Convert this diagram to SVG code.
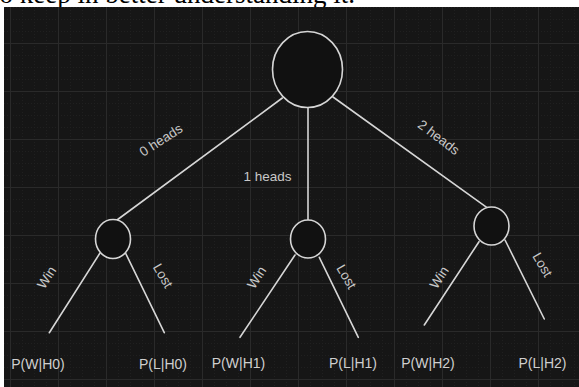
<svg xmlns="http://www.w3.org/2000/svg" width="579" height="387" viewBox="0 0 579 387">
  <defs>
    <style>
      .caption { font-family: "Liberation Serif", "Times New Roman", serif; font-size: 27px; fill: #000; }
      .node { fill: #111111; stroke: #d6d6d6; stroke-width: 1.6; }
      .edge { stroke: #d6d6d6; stroke-width: 1.6; fill: none; stroke-linecap: round; }
      .lbl { font-family: "Liberation Sans", Arial, sans-serif; font-size: 13.5px; fill: #c8c8c8; text-anchor: middle; }
      .leaf { font-family: "Liberation Sans", Arial, sans-serif; font-size: 14px; fill: #cfcfcf; text-anchor: middle; }
      .minor { stroke: #202020; stroke-width: 1; stroke-dasharray: 1 2; }
      .major { stroke: #2a2a2a; stroke-width: 1; }
    </style>
    <pattern id="grid" patternUnits="userSpaceOnUse" x="10" y="43" width="48" height="48">
      <line class="minor" x1="12.5" y1="0" x2="12.5" y2="48"/>
      <line class="minor" x1="24.5" y1="0" x2="24.5" y2="48"/>
      <line class="minor" x1="36.5" y1="0" x2="36.5" y2="48"/>
      <line class="minor" x1="0" y1="12.5" x2="48" y2="12.5"/>
      <line class="minor" x1="0" y1="24.5" x2="48" y2="24.5"/>
      <line class="minor" x1="0" y1="36.5" x2="48" y2="36.5"/>
      <line class="major" x1="0.5" y1="0" x2="0.5" y2="48"/>
      <line class="major" x1="0" y1="0.5" x2="48" y2="0.5"/>
    </pattern>
  </defs>

  <!-- page strip above the canvas -->
  <rect x="0" y="0" width="579" height="387" fill="#ffffff"/>
  <text class="caption" x="-8" y="3">to keep in better understanding it.</text>

  <!-- canvas with grid -->
  <rect x="4" y="7" width="575" height="380" fill="#161616"/>
  <rect x="4" y="7" width="575" height="380" fill="url(#grid)"/>

  <g id="connectors">
    <line class="edge" x1="282.3" y1="98" x2="117" y2="220"/>
    <line class="edge" x1="308" y1="107.5" x2="308" y2="220"/>
    <line class="edge" x1="333" y1="97" x2="486.7" y2="207.3"/>

    <line class="edge" x1="100" y1="253" x2="49.3" y2="332.7"/>
    <line class="edge" x1="125" y1="252" x2="164.3" y2="332.7"/>

    <line class="edge" x1="295" y1="255" x2="240" y2="337.3"/>
    <line class="edge" x1="319.3" y1="257.3" x2="358.3" y2="337.3"/>

    <line class="edge" x1="479" y1="241.7" x2="424.3" y2="325"/>
    <line class="edge" x1="505" y1="240" x2="544.3" y2="319"/>

    <text class="lbl" transform="translate(163.5,144) rotate(-33)">0 heads</text>
    <text class="lbl" x="267.5" y="181">1 heads</text>
    <text class="lbl" transform="translate(436,141) rotate(37)">2 heads</text>

    <text class="lbl" font-size="12.5" transform="translate(50.5,280) rotate(-57)">Win</text>
    <text class="lbl" font-size="12.5" transform="translate(159,278) rotate(60)">Lost</text>
    <text class="lbl" font-size="12.5" transform="translate(260.5,280) rotate(-57)">Win</text>
    <text class="lbl" font-size="12.5" transform="translate(342.5,279) rotate(60)">Lost</text>
    <text class="lbl" font-size="12.5" transform="translate(443,280) rotate(-57)">Win</text>
    <text class="lbl" font-size="12.5" transform="translate(538.5,267) rotate(60)">Lost</text>
  </g>

  <g id="root">
    <ellipse class="node" cx="307.5" cy="69.5" rx="35" ry="38"/>
  </g>
  <g id="h0">
    <ellipse class="node" cx="113" cy="239" rx="17.5" ry="19.5"/>
  </g>
  <g id="h1">
    <ellipse class="node" cx="308" cy="239" rx="17.5" ry="19"/>
  </g>
  <g id="h2">
    <ellipse class="node" cx="491.5" cy="226" rx="17.5" ry="19"/>
  </g>

  <g id="leaf-w-h0"><text class="leaf" x="38" y="369">P(W|H0)</text></g>
  <g id="leaf-l-h0"><text class="leaf" x="163" y="369">P(L|H0)</text></g>
  <g id="leaf-w-h1"><text class="leaf" x="238.5" y="368">P(W|H1)</text></g>
  <g id="leaf-l-h1"><text class="leaf" x="353" y="368">P(L|H1)</text></g>
  <g id="leaf-w-h2"><text class="leaf" x="428" y="368">P(W|H2)</text></g>
  <g id="leaf-l-h2"><text class="leaf" x="542.5" y="368">P(L|H2)</text></g>
</svg>
